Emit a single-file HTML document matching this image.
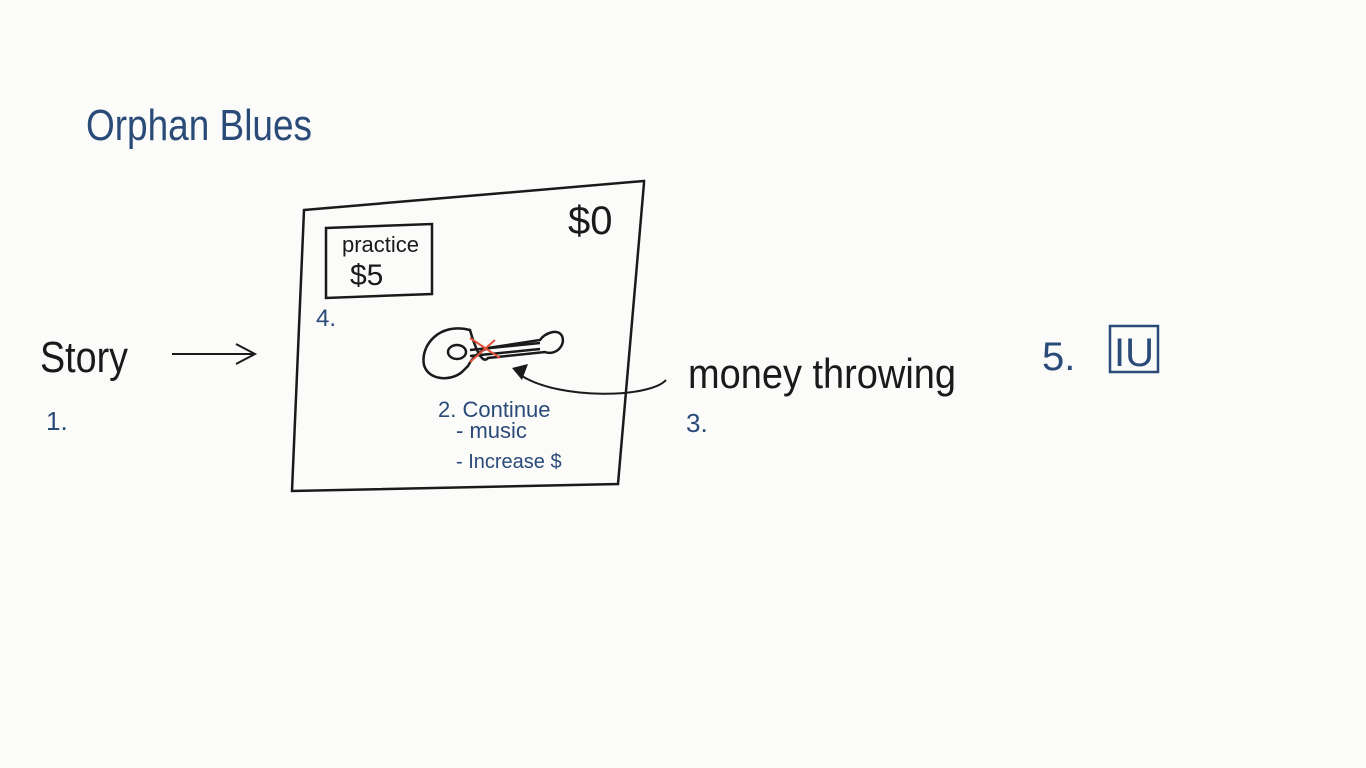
<!DOCTYPE html>
<html><head><meta charset="utf-8"><style>
html,body{margin:0;padding:0;background:#fbfbfa;}
svg{display:block}
text{font-family:"Liberation Sans",sans-serif;}
.blue{fill:#2a4a78}
.blk{fill:#1a1a1a}
</style></head><body>
<svg width="1366" height="768" viewBox="0 0 1366 768">
<rect width="1366" height="768" fill="#fbfbfa"/>
<text x="86" y="140" font-size="44" class="blue" font-weight="300" textLength="226" lengthAdjust="spacingAndGlyphs">Orphan Blues</text>
<text x="40" y="372" font-size="44" class="blk" textLength="88" lengthAdjust="spacingAndGlyphs">Story</text>
<text x="46" y="430" font-size="26" class="blue">1.</text>
<g stroke="#1a1a1a" stroke-width="2" fill="none">
<path d="M172 354 L255 354 M236 344 L255 354 L236 364"/></g>
<path d="M304 210 L644 181 L644 183 L618 484 L292 491 Z" stroke="#1a1a1a" stroke-width="2.5" fill="none"/>
<path d="M326 228 L432 224 L432 294 L326 298 Z" stroke="#1a1a1a" stroke-width="2.5" fill="none"/>
<text x="342" y="252" font-size="22" class="blk">practice</text>
<text x="350" y="285" font-size="30" class="blk">$5</text>
<text x="316" y="326" font-size="24" class="blue">4.</text>
<text x="568" y="234" font-size="40" class="blk">$0</text>
<g stroke="#1a1a1a" stroke-width="2.5" fill="none">
<path d="M470 330 C440 322 420 345 424 365 C428 380 450 382 462 372 L468 366 C472 358 478 352 488 348 L540 340 C545 333 558 328 562 336 C566 345 556 356 545 352 L488 358 C480 368 470 330 470 330 Z"/>
<ellipse cx="457" cy="352" rx="9" ry="7"/>
<path d="M470 350 L540 343 M470 356 L540 349"/></g>
<path d="M470 338 L500 358 M495 340 L470 362" stroke="#e0533a" stroke-width="2"/>
<path d="M512 368 L528 364 L522 380 Z" fill="#1a1a1a"/>
<path d="M522 376 C560 400 650 398 666 380" stroke="#1a1a1a" stroke-width="2" fill="none"/>
<text x="438" y="417" font-size="22" class="blue">2. Continue</text>
<text x="456" y="438" font-size="22" class="blue">- music</text>
<text x="456" y="468" font-size="20" class="blue">- Increase $</text>
<text x="688" y="388" font-size="42" class="blk" textLength="268" lengthAdjust="spacingAndGlyphs">money throwing</text>
<text x="686" y="432" font-size="26" class="blue">3.</text>
<text x="1042" y="370" font-size="40" class="blue">5.</text>
<rect x="1110" y="326" width="48" height="46" stroke="#2a4a78" stroke-width="2.5" fill="none"/>
<text x="1114" y="366" font-size="40" class="blue">IU</text>
</svg>
</body></html>
